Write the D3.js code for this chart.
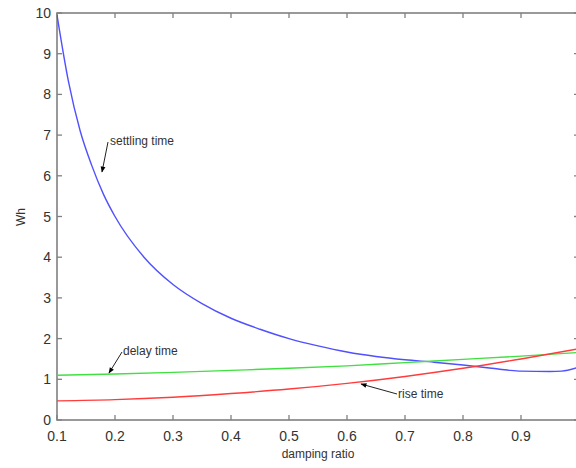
<!DOCTYPE html>
<html><head><meta charset="utf-8">
<script src="https://cdn.jsdelivr.net/npm/d3@7"></script>
<style>body{margin:0;background:#fff}svg{display:block}</style>
</head><body>
<svg id="c" width="576" height="468"></svg>
<script>
const zeta = [0.1,0.12,0.14,0.16,0.18,0.2,0.25,0.3,0.35,0.4,0.45,0.5,0.55,0.6,0.65,0.7,0.75,0.8,0.85,0.88,0.9,0.95,0.97,1.0];
const settling = [9.95,8.3,7.1,6.25,5.55,5.0,4.0,3.33,2.86,2.5,2.23,2.0,1.82,1.67,1.56,1.48,1.42,1.35,1.27,1.22,1.2,1.19,1.2,1.3];
const zeta2 = [0.1,0.2,0.3,0.4,0.5,0.6,0.7,0.8,0.9,1.0];
const delay = [1.1,1.13,1.17,1.22,1.27,1.33,1.41,1.49,1.57,1.66];
const rise = [0.47,0.5,0.56,0.65,0.76,0.9,1.07,1.27,1.5,1.75];
const xTicks = [0.1,0.2,0.3,0.4,0.5,0.6,0.7,0.8,0.9];
const yTicks = [0,1,2,3,4,5,6,7,8,9,10];

const svg = d3.select("#c");
const L=57, R=579, T=13, B=420;
const x = d3.scaleLinear().domain([0.1,1.0]).range([L,R]);
const y = d3.scaleLinear().domain([0,10]).range([B,T]);
const font = "'Liberation Sans', Arial, sans-serif";
const axisCol = "#808080";

svg.append("rect").attr("x",L).attr("y",T).attr("width",R-L).attr("height",B-T)
  .attr("fill","none").attr("stroke",axisCol).attr("stroke-width",1.6);

const g = svg.append("g");
xTicks.concat([1.0]).forEach(v=>{
  g.append("line").attr("x1",x(v)).attr("x2",x(v)).attr("y1",B).attr("y2",B-5).attr("stroke",axisCol).attr("stroke-width",1.3);
  g.append("line").attr("x1",x(v)).attr("x2",x(v)).attr("y1",T).attr("y2",T+5).attr("stroke",axisCol).attr("stroke-width",1.3);
});
yTicks.forEach(v=>{
  g.append("line").attr("x1",L).attr("x2",L+5).attr("y1",y(v)).attr("y2",y(v)).attr("stroke",axisCol).attr("stroke-width",1.3);
  g.append("line").attr("x1",R).attr("x2",R-5).attr("y1",y(v)).attr("y2",y(v)).attr("stroke",axisCol).attr("stroke-width",1.3);
});
xTicks.forEach(v=>{
  svg.append("text").attr("x",x(v)).attr("y",441).attr("text-anchor","middle")
    .attr("font-family",font).attr("font-size",14).attr("fill","#333").text(d3.format(".1f")(v));
});
yTicks.forEach(v=>{
  svg.append("text").attr("x",L-6).attr("y",y(v)+5).attr("text-anchor","end")
    .attr("font-family",font).attr("font-size",14).attr("fill","#333").text(v);
});
svg.append("text").attr("x",318).attr("y",458).attr("text-anchor","middle")
  .attr("font-family",font).attr("font-size",12).attr("fill","#333").text("damping ratio");
svg.append("text").attr("transform","translate(25,217) rotate(-90)").attr("text-anchor","middle")
  .attr("font-family",font).attr("font-size",12).attr("fill","#333").text("Wh");

svg.append("clipPath").attr("id","pc").append("rect").attr("x",L).attr("y",T).attr("width",R-L).attr("height",B-T);
const line = d3.line().curve(d3.curveMonotoneX);
const pl = svg.append("g").attr("clip-path","url(#pc)");
pl.append("path").attr("d",line(zeta.map((z,i)=>[x(z),y(settling[i])]))).attr("fill","none").attr("stroke","#5050ff").attr("stroke-width",1.4);
pl.append("path").attr("d",line(zeta2.map((z,i)=>[x(z),y(delay[i])]))).attr("fill","none").attr("stroke","#40e040").attr("stroke-width",1.4);
pl.append("path").attr("d",line(zeta2.map((z,i)=>[x(z),y(rise[i])]))).attr("fill","none").attr("stroke","#ff3c3c").attr("stroke-width",1.4);

const defs = svg.append("defs");
defs.append("marker").attr("id","ah").attr("viewBox","0 0 10 10").attr("refX",9).attr("refY",5)
  .attr("markerWidth",7).attr("markerHeight",6).attr("orient","auto")
  .append("path").attr("d","M0,1 L10,5 L0,9 Z").attr("fill","#000");
function ann(x1,y1,x2,y2,tx,ty,label){
  svg.append("line").attr("x1",x1).attr("y1",y1).attr("x2",x2).attr("y2",y2)
    .attr("stroke","#222").attr("stroke-width",1).attr("marker-end","url(#ah)");
  svg.append("text").attr("x",tx).attr("y",ty).attr("font-family",font).attr("font-size",12)
    .attr("fill","#333").text(label);
}
ann(108,142,102,172,110,145,"settling time");
ann(122,352,109,373,123,355,"delay time");
ann(397,394,361,384,398,398,"rise time");
</script>
</body></html>
